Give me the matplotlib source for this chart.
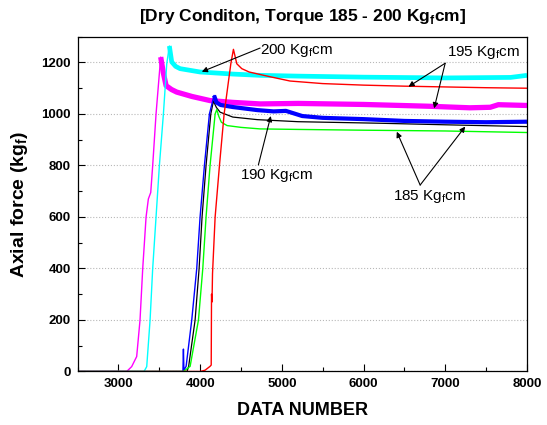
import numpy as np
import matplotlib
matplotlib.use("Agg")
import matplotlib.pyplot as plt
from matplotlib.ticker import MultipleLocator

plt.rcParams['font.family'] = ['Liberation Sans', 'DejaVu Sans']
plt.rcParams['mathtext.fontset'] = 'custom'
plt.rcParams['mathtext.rm'] = 'Liberation Sans'
plt.rcParams['mathtext.bf'] = 'Liberation Sans:bold'

# data (data number, axial force kgf)
mag_x = [2500, 3102, 3163, 3224, 3265, 3298, 3339, 3367, 3396, 3420, 3461, 3518, 3550, 3584,
         3650, 3714, 3900, 4122, 4400, 4735, 5200, 6000, 6800, 7300, 7550, 7650, 8000]
mag_y = [0, 0, 19, 58, 200, 400, 600, 670, 695, 800, 1000, 1221, 1160, 1110,
         1095, 1085, 1068, 1052, 1045, 1039, 1041, 1037, 1030, 1024, 1026, 1036, 1033]

cyan_x = [2500, 3314, 3347, 3388, 3420, 3461, 3502, 3551, 3592, 3624, 3653, 3700, 3755,
          4000, 4400, 4735, 5200, 6000, 7000, 7800, 8000]
cyan_y = [0, 0, 19, 200, 400, 600, 800, 1000, 1195, 1264, 1202, 1185, 1176,
          1163, 1155, 1150, 1147, 1143, 1140, 1142, 1150]

blue_x = [2500, 3790, 3796, 3802, 3829, 3898, 3959, 4000, 4053, 4114, 4171, 4200, 4250,
          4400, 4700, 4900, 5050, 5250, 5500, 6000, 6500, 7000, 7500, 8000]
blue_y = [0, 0, 87, 5, 20, 200, 400, 600, 800, 1000, 1072, 1045, 1035,
          1027, 1015, 1010, 1012, 992, 985, 980, 973, 970, 968, 970]

black_x = [2500, 3840, 3860, 3939, 3988, 4024, 4073, 4131, 4163, 4200, 4245, 4400, 4700,
           5200, 6200, 7000, 8000]
black_y = [0, 0, 20, 200, 400, 600, 800, 1000, 1050, 1025, 1007, 988, 978,
           970, 964, 958, 951]

green_x = [2500, 3796, 3878, 3980, 4033, 4073, 4122, 4184, 4204, 4230, 4260, 4330, 4500,
           4735, 5200, 6000, 7000, 8000]
green_y = [0, 0, 20, 200, 400, 600, 800, 1000, 1017, 990, 968, 955, 948,
           942, 940, 937, 934, 928]

red_x = [2500, 4000, 4061, 4122, 4136, 4140, 4146, 4152, 4184, 4237, 4294, 4376, 4408,
         4449, 4510, 4600, 4850, 5100, 5500, 6000, 6500, 7000, 7500, 8000]
red_y = [0, 0, 5, 20, 25, 300, 270, 380, 600, 800, 1000, 1195, 1251,
         1195, 1176, 1163, 1145, 1128, 1118, 1112, 1108, 1105, 1102, 1100]

fig = plt.figure(figsize=(5.47, 4.25), dpi=100)
ax = fig.add_axes([0.1417, 0.1259, 0.8217, 0.7877])

# noisy curves: thin rise, thick band after the peak
ax.plot(mag_x, mag_y, color='#ff00ff', lw=1.0)
pk = int(np.argmax(mag_y))
ax.plot(mag_x[pk:], mag_y[pk:], color='#ff00ff', lw=3.8, solid_capstyle='butt')

ax.plot(cyan_x, cyan_y, color='#00ffff', lw=1.0)
pk = int(np.argmax(cyan_y))
ax.plot(cyan_x[pk:], cyan_y[pk:], color='#00ffff', lw=3.4, solid_capstyle='butt')

ax.plot(black_x, black_y, color='black', lw=0.9)

ax.plot(blue_x, blue_y, color='#0000ff', lw=1.0)
pk = int(np.argmax(blue_y))
ax.plot(blue_x[pk:], blue_y[pk:], color='#0000ff', lw=3.0, solid_capstyle='butt')

ax.plot(green_x, green_y, color='#00ff00', lw=1.0)
ax.plot(red_x, red_y, color='#ff0000', lw=1.0)

ax.set_xlim(2500, 8000)
ax.set_ylim(0, 1300)
ax.xaxis.set_major_locator(MultipleLocator(1000))
ax.xaxis.set_minor_locator(MultipleLocator(500))
ax.yaxis.set_major_locator(MultipleLocator(200))
ax.yaxis.set_minor_locator(MultipleLocator(100))
ax.tick_params(which='both', direction='in', top=False, right=False)
ax.tick_params(which='major', length=5, width=0.8, labelsize=9.5, pad=5)
ax.tick_params(which='minor', length=3, width=0.8)
for lab in ax.get_xticklabels() + ax.get_yticklabels():
    lab.set_fontweight('bold')
ax.grid(axis='y', which='major', color='#b8b8b8', ls=':', lw=0.8)
ax.set_axisbelow(True)
for sp in ax.spines.values():
    sp.set_linewidth(0.9)

ax.set_xlabel('DATA NUMBER', fontsize=13, fontweight='bold', labelpad=8)
ax.set_ylabel(r'Axial force (kg$_\mathbf{f}$)', fontsize=14, fontweight='bold', labelpad=8)
ax.set_title(r'[Dry Conditon, Torque 185 - 200 Kg$_\mathbf{f}$cm]', fontsize=12.5,
             fontweight='bold', pad=11)

arr = dict(arrowstyle='-|>', color='black', lw=0.8, mutation_scale=8, shrinkA=0, shrinkB=0)
ax.text(4734, 1248, r'200 Kg$_\mathrm{f}$cm', fontsize=11, ha='left', va='center')
ax.annotate('', xy=(4021, 1164), xytext=(4734, 1256), arrowprops=arr)

ax.text(7466, 1237, r'195 Kg$_\mathrm{f}$cm', fontsize=11, ha='center', va='center')
ax.annotate('', xy=(6550, 1106), xytext=(6999, 1197), arrowprops=arr)
ax.annotate('', xy=(6864, 1022), xytext=(6999, 1197), arrowprops=arr)

ax.text(6814, 678, r'185 Kg$_\mathrm{f}$cm', fontsize=11, ha='center', va='center')
ax.annotate('', xy=(6407, 931), xytext=(6693, 724), arrowprops=arr)
ax.annotate('', xy=(7244, 951), xytext=(6693, 724), arrowprops=arr)

ax.text(4931, 763, r'190 Kg$_\mathrm{f}$cm', fontsize=11, ha='center', va='center')
ax.annotate('', xy=(4865, 992), xytext=(4713, 802), arrowprops=arr)

fig.savefig('out.png', dpi=100)
